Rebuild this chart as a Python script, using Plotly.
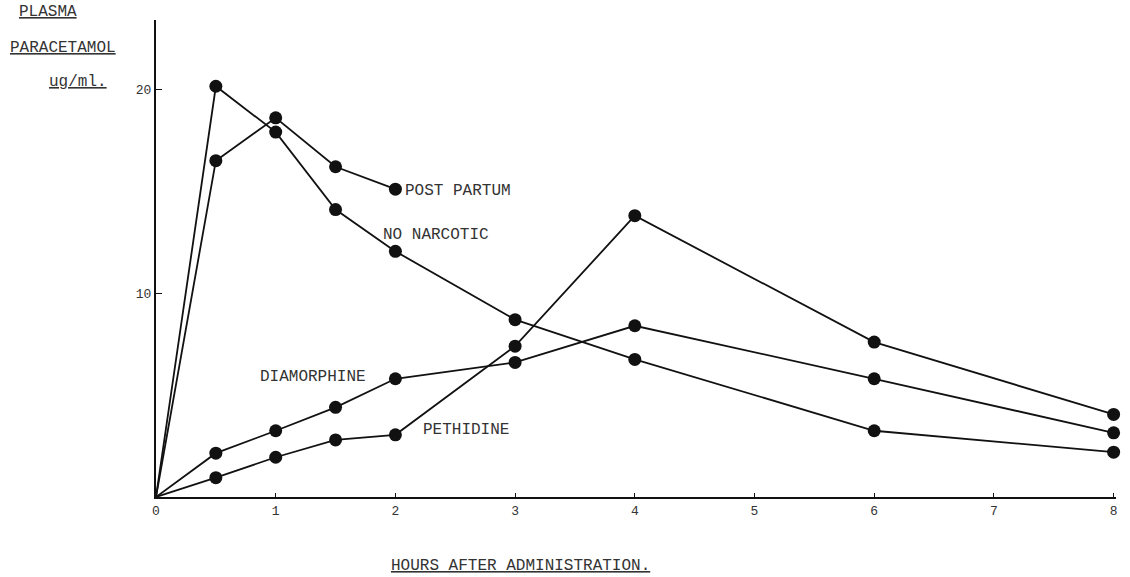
import plotly.graph_objects as go

# Hours after administration
hours_no_narcotic = [0, 0.5, 1, 1.5, 2, 3, 4, 6, 8]
no_narcotic = [0, 20.15, 17.9, 14.1, 12.05, 8.7, 6.75, 3.25, 2.2]

hours_post_partum = [0, 0.5, 1, 1.5, 2]
post_partum = [0, 16.5, 18.6, 16.2, 15.1]

hours_diamorphine = [0, 0.5, 1, 1.5, 2, 3, 4, 6, 8]
diamorphine = [0, 2.15, 3.25, 4.4, 5.8, 6.6, 8.4, 5.8, 3.15]

hours_pethidine = [0, 0.5, 1, 1.5, 2, 3, 4, 6, 8]
pethidine = [0, 0.95, 1.95, 2.8, 3.05, 7.4, 13.8, 7.6, 4.05]

x_ticks = [0, 1, 2, 3, 4, 5, 6, 7, 8]
x_ticktext = ["0", "1", "2", "3", "4", "5", "6", "7", "8"]
y_ticks = [10, 20]
y_ticktext = ["10", "20"]

FONT = "Liberation Mono, Courier New, monospace"
INK = "#111111"
TXT = "#333333"

fig = go.Figure()

series = [
    (hours_no_narcotic, no_narcotic, "NO NARCOTIC"),
    (hours_post_partum, post_partum, "POST PARTUM"),
    (hours_diamorphine, diamorphine, "DIAMORPHINE"),
    (hours_pethidine, pethidine, "PETHIDINE"),
]
for xs, ys, name in series:
    fig.add_trace(go.Scatter(
        x=xs, y=ys, mode="lines", name=name,
        line=dict(color=INK, width=1.8),
        cliponaxis=False, showlegend=False,
    ))
    fig.add_trace(go.Scatter(
        x=xs[1:], y=ys[1:], mode="markers", name=name,
        marker=dict(color=INK, size=13, symbol="circle"),
        cliponaxis=False, showlegend=False, hoverinfo="skip",
    ))

# Series labels placed next to their curves
labels = [
    (2.06, 15.0, "POST PARTUM"),
    (1.88, 12.85, "NO NARCOTIC"),
    (0.85, 5.9, "DIAMORPHINE"),
    (2.21, 3.3, "PETHIDINE"),
]
for x, y, t in labels:
    fig.add_annotation(x=x, y=y, text=t, showarrow=False, xanchor="left",
                       yanchor="middle",
                       font=dict(family=FONT, size=16, color=TXT))

# Y-axis title block (top-left) and x-axis title
ytitle = [
    (-0.1123, 1.017, "<u>PLASMA</u>"),
    (-0.0967, 0.941, "<u>PARACETAMOL</u>"),
    (-0.081, 0.870, "<u>ug/ml.</u>"),
]
for x, y, t in ytitle:
    fig.add_annotation(xref="paper", yref="paper", x=x, y=y, text=t,
                       showarrow=False, xanchor="center", yanchor="middle",
                       font=dict(family=FONT, size=16, color=TXT))
fig.add_annotation(xref="paper", yref="paper", x=0.38, y=-0.145,
                   text="<u>HOURS AFTER ADMINISTRATION.</u>", showarrow=False,
                   xanchor="center", yanchor="middle",
                   font=dict(family=FONT, size=16, color=TXT))

fig.update_layout(
    width=1130, height=577,
    margin=dict(l=156, r=12, t=20, b=80),
    paper_bgcolor="white", plot_bgcolor="white",
    xaxis=dict(
        range=[0, 8.02], tickvals=x_ticks, ticktext=x_ticktext,
        showgrid=False, zeroline=False, showline=True,
        linecolor=INK, linewidth=2.2, ticks="inside", ticklen=4,
        tickcolor=INK, tickwidth=1,
        tickfont=dict(family=FONT, size=13, color=TXT),
    ),
    yaxis=dict(
        range=[0, 23.4], tickvals=y_ticks, ticktext=y_ticktext,
        showgrid=False, zeroline=False, showline=True,
        linecolor=INK, linewidth=2.2, ticks="inside", ticklen=6,
        tickcolor=INK, tickwidth=1.2,
        tickfont=dict(family=FONT, size=13, color=TXT),
    ),
)

fig.write_html("out.html",
               config={"displayModeBar": False},
               post_script="document.body.style.margin='0';document.body.style.padding='0';")
